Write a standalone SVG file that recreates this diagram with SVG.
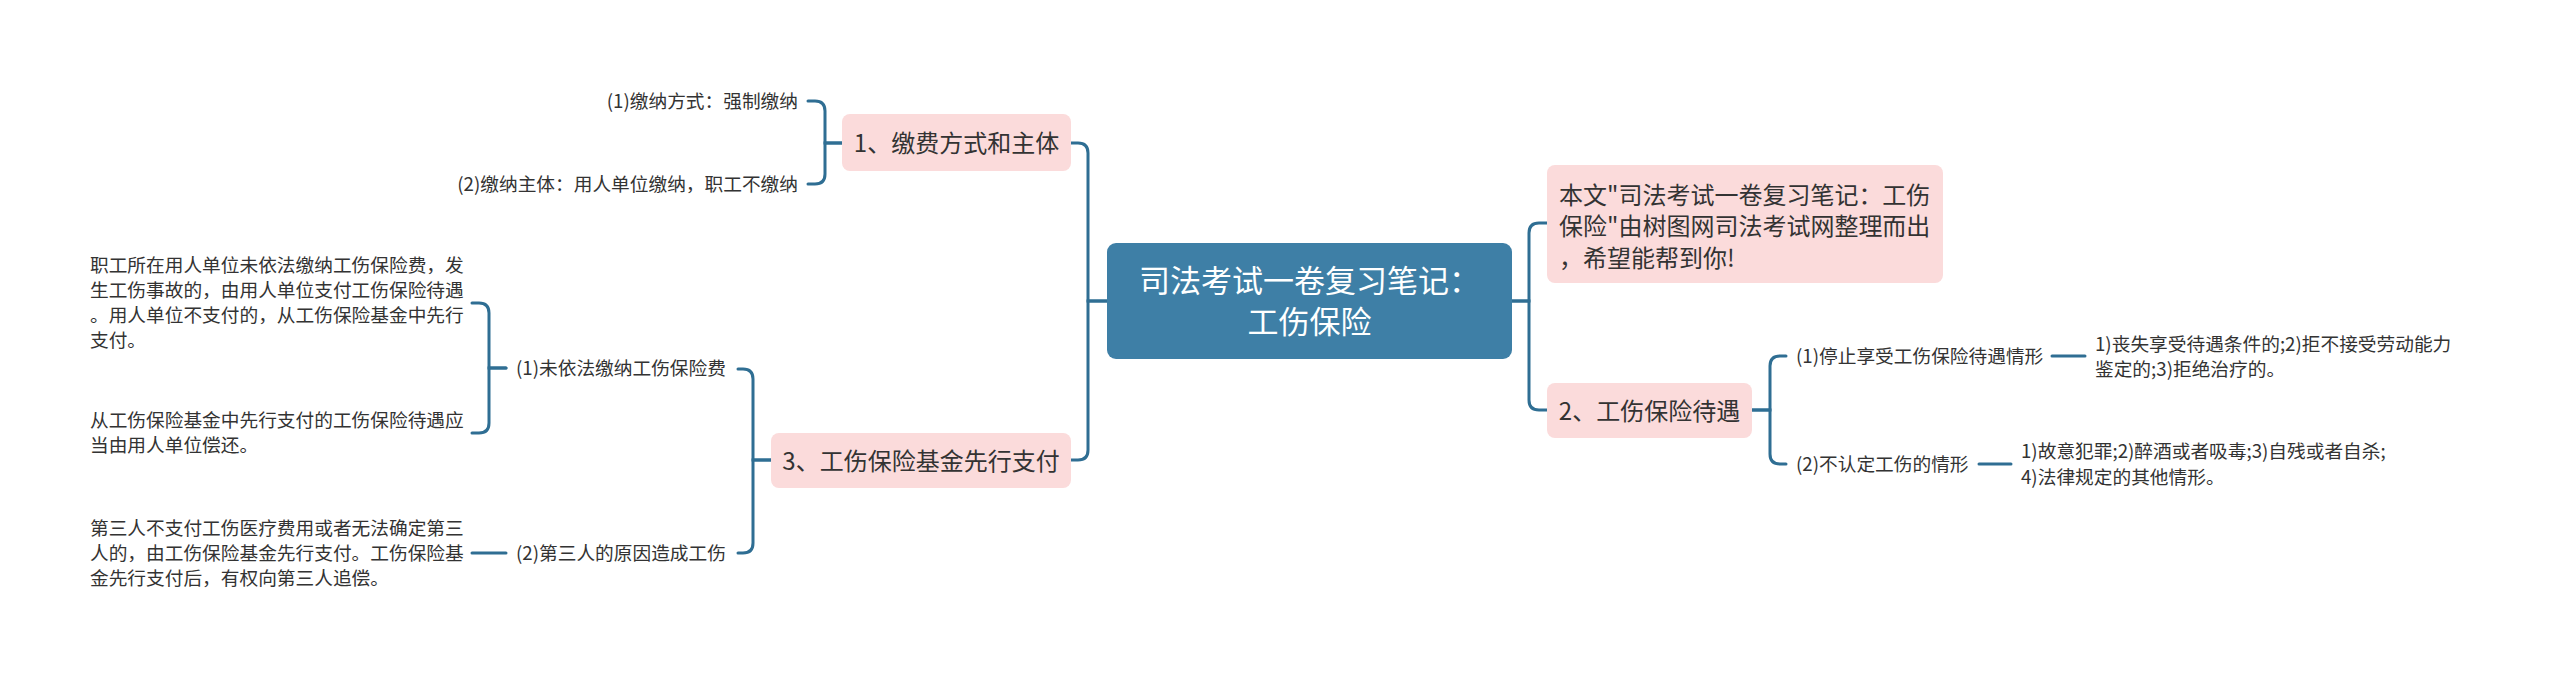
<svg xmlns="http://www.w3.org/2000/svg" width="2560" height="677" viewBox="0 0 2560 677">
<style>
text{font-family:"Noto Sans CJK SC","Noto Sans",sans-serif;fill:#333333}
.leaf{font-size:18.7px}
.lvl1{font-size:24px}
.root{font-size:31px;fill:#ffffff}
.pink{fill:#fbdbdb}
.conn path{fill:none;stroke:#2f6e93;stroke-width:3;stroke-linecap:round}
</style>
<rect width="2560" height="677" fill="#ffffff"/>
<g class="conn" id="connectors">
<path d="M1107 301 H1088 V153 Q1088 143 1078 143 H1071"/>
<path d="M1107 301 H1088 V450 Q1088 460 1078 460 H1071"/>
<path d="M842 143 H825 V111 Q825 101 815 101 H808"/>
<path d="M842 143 H825 V174 Q825 184 815 184 H808"/>
<path d="M771 460 H753 V379 Q753 369 743 369 H738"/>
<path d="M771 460 H753 V543 Q753 553 743 553 H738"/>
<path d="M506 368 H489 V313 Q489 303 479 303 H472"/>
<path d="M506 368 H489 V423 Q489 433 479 433 H472"/>
<path d="M506 553 H472"/>
<path d="M1512 301 H1529 V233 Q1529 223 1539 223 H1547"/>
<path d="M1512 301 H1529 V400 Q1529 410 1539 410 H1547"/>
<path d="M1752 410 H1770 V366 Q1770 356 1780 356 H1786"/>
<path d="M1752 410 H1770 V454 Q1770 464 1780 464 H1786"/>
<path d="M2052 356 H2085"/>
<path d="M1979 464 H2011"/>
</g>
<g id="root">
<rect x="1107" y="243" width="405" height="116" rx="9" fill="#3e7fa6"/>
<text class="root" x="1309.5" y="292" text-anchor="middle">司法考试一卷复习笔记：</text>
<text class="root" x="1309.5" y="333" text-anchor="middle">工伤保险</text>
</g>
<g id="n1">
<rect class="pink" x="842" y="114" width="229" height="57" rx="8"/>
<text class="lvl1" x="956.5" y="152" text-anchor="middle">1、缴费方式和主体</text>
</g>
<g id="n1a"><text class="leaf" x="798" y="108" text-anchor="end">(1)缴纳方式：强制缴纳</text></g>
<g id="n1b"><text class="leaf" x="798" y="191" text-anchor="end">(2)缴纳主体：用人单位缴纳，职工不缴纳</text></g>
<g id="n3">
<rect class="pink" x="771" y="433" width="300" height="55" rx="8"/>
<text class="lvl1" x="921" y="469.5" text-anchor="middle">3、工伤保险基金先行支付</text>
</g>
<g id="n3a"><text class="leaf" x="516" y="375">(1)未依法缴纳工伤保险费</text></g>
<g id="n3a1">
<text class="leaf" x="90" y="272">职工所在用人单位未依法缴纳工伤保险费，发</text>
<text class="leaf" x="90" y="297">生工伤事故的，由用人单位支付工伤保险待遇</text>
<text class="leaf" x="90" y="322">。用人单位不支付的，从工伤保险基金中先行</text>
<text class="leaf" x="90" y="347">支付。</text>
</g>
<g id="n3a2">
<text class="leaf" x="90" y="427">从工伤保险基金中先行支付的工伤保险待遇应</text>
<text class="leaf" x="90" y="452">当由用人单位偿还。</text>
</g>
<g id="n3b"><text class="leaf" x="516" y="560">(2)第三人的原因造成工伤</text></g>
<g id="n3b1">
<text class="leaf" x="90" y="535">第三人不支付工伤医疗费用或者无法确定第三</text>
<text class="leaf" x="90" y="560">人的，由工伤保险基金先行支付。工伤保险基</text>
<text class="leaf" x="90" y="585">金先行支付后，有权向第三人追偿。</text>
</g>
<g id="intro">
<rect class="pink" x="1547" y="165" width="396" height="118" rx="8"/>
<text class="lvl1" x="1559" y="203.5">本文"司法考试一卷复习笔记：工伤</text>
<text class="lvl1" x="1559" y="235">保险"由树图网司法考试网整理而出</text>
<text class="lvl1" x="1559" y="266.5">，希望能帮到你!</text>
</g>
<g id="n2">
<rect class="pink" x="1547" y="383" width="205" height="55" rx="8"/>
<text class="lvl1" x="1649.5" y="419.5" text-anchor="middle">2、工伤保险待遇</text>
</g>
<g id="n2a"><text class="leaf" x="1796" y="363">(1)停止享受工伤保险待遇情形</text></g>
<g id="n2a1">
<text class="leaf" x="2095" y="351">1)丧失享受待遇条件的;2)拒不接受劳动能力</text>
<text class="leaf" x="2095" y="376">鉴定的;3)拒绝治疗的。</text>
</g>
<g id="n2b"><text class="leaf" x="1796" y="471">(2)不认定工伤的情形</text></g>
<g id="n2b1">
<text class="leaf" x="2021" y="458">1)故意犯罪;2)醉酒或者吸毒;3)自残或者自杀;</text>
<text class="leaf" x="2021" y="484">4)法律规定的其他情形。</text>
</g>
</svg>
